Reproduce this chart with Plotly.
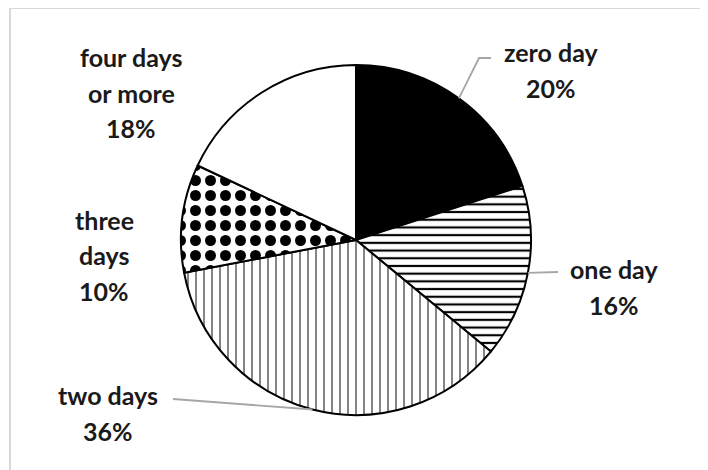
import math
import plotly.graph_objects as go

# ---- data ----
categories = ["zero day", "one day", "two days", "three days", "four days or more"]
values = [20, 16, 36, 10, 18]
label_lines = [["zero day"], ["one day"], ["two days"], ["three", "days"], ["four days", "or more"]]

# ---- styling / layout (pixels as seen in the 708x470 window) ----
W, H = 708, 470
OFF = 8  # page body margin
CX, CY, R = 356, 240, 175
fills = [
    dict(bg="black", fg="black", shape="", size=8, sol=0.3),
    dict(bg="white", fg="black", shape="-", size=7.7, sol=0.28),
    dict(bg="white", fg="black", shape="|", size=8, sol=0.12),
    dict(bg="white", fg="black", shape=".", size=15, sol=0.42),
    dict(bg="white", fg="black", shape="", size=8, sol=0.3),
]
label_pos = [(551, 52), (614, 269), (108, 395), (104, 220), (131, 57)]
line_gap = 35.5
leaders = {0: [(479, 58), (491, 58)], 1: [(558, 272)], 2: [(173, 399)]}

def px(x):
    return (x - OFF) / W

def py(y):
    return 1 - (y - OFF) / H

fig = go.Figure(go.Pie(
    labels=categories,
    values=values,
    sort=False,
    direction="clockwise",
    rotation=0,
    textinfo="none",
    hoverinfo="label+percent",
    showlegend=False,
    marker=dict(
        colors=[f["bg"] for f in fills],
        line=dict(color="black", width=2),
        pattern=dict(
            shape=[f["shape"] for f in fills],
            fgcolor=[f["fg"] for f in fills],
            bgcolor=[f["bg"] for f in fills],
            fgopacity=1,
            size=[f["size"] for f in fills],
            solidity=[f["sol"] for f in fills],
            fillmode="replace",
        ),
    ),
    domain=dict(x=[px(CX - R), px(CX + R)], y=[py(CY + R), py(CY - R)]),
))

total = sum(values)
annotations = []
shapes = []
cum = 0
for i, (cat, v) in enumerate(zip(categories, values)):
    mid = (cum + v / 2) / total * 2 * math.pi
    cum += v
    pct = f"{round(v / total * 100)}%"
    lines = label_lines[i] + [pct]
    x0, y0 = label_pos[i]
    for k, t in enumerate(lines):
        annotations.append(dict(
            x=px(x0), y=py(y0 + k * line_gap), xref="paper", yref="paper",
            text=f"<b>{t}</b>", showarrow=False, xanchor="center", yanchor="middle",
            font=dict(family="Lato", size=25, color="#1a1a1a"),
        ))
    if i in leaders:
        ax = CX + R * math.sin(mid)
        ay = CY - R * math.cos(mid)
        pts = [(ax, ay)] + leaders[i]
        path = "M " + " L ".join(f"{px(a)},{py(b)}" for a, b in pts)
        shapes.append(dict(type="path", xref="paper", yref="paper", path=path,
                           line=dict(color="#a6a6a6", width=1.8)))

# chart frame
shapes.append(dict(type="rect", xref="paper", yref="paper",
                   x0=px(10), x1=px(703), y0=py(480), y1=py(8),
                   line=dict(color="#d9d9d9", width=2), layer="below"))

fig.update_layout(
    width=W, height=H,
    margin=dict(l=0, r=0, t=0, b=0),
    paper_bgcolor="white",
    plot_bgcolor="white",
    annotations=annotations,
    shapes=shapes,
)

fig.write_html("out.html")
